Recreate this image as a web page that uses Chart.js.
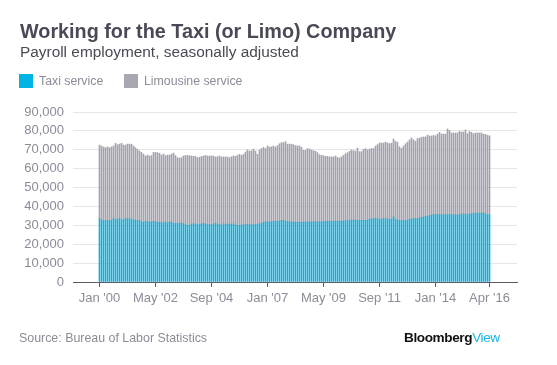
<!DOCTYPE html>
<html>
<head>
<meta charset="utf-8">
<script src="https://cdn.jsdelivr.net/npm/chart.js@4.4.1/dist/chart.umd.min.js"></script>
<style>
  body { margin: 0; background: #fff; }
  #wrap { position: relative; width: 557px; height: 365px; font-family: "Liberation Sans", Arial, sans-serif; overflow: hidden; }
  #c { position: absolute; left: 0; top: 0; }
  .title { position: absolute; left: 20px; top: 20px; font-size: 19.8px; font-weight: bold; color: #4a4956; white-space: nowrap; }
  .sub { position: absolute; left: 20px; top: 43px; font-size: 15.4px; color: #4a4956; white-space: nowrap; }
  .legend { position: absolute; top: 74px; font-size: 12.3px; line-height: 14px; color: #8c8b98; white-space: nowrap; }
  .legend span.sw { display: inline-block; width: 14px; height: 14px; vertical-align: top; margin-right: 6px; }
  .source { position: absolute; left: 19px; top: 331px; font-size: 12.4px; color: #8c8b98; white-space: nowrap; }
  .logo { position: absolute; left: 404px; top: 330px; font-size: 13.6px; font-weight: bold; letter-spacing: -0.4px; color: #111; white-space: nowrap; }
  .logo span { color: #1bb5e6; font-weight: normal; }
</style>
</head>
<body>
<div id="wrap">
  <canvas id="c" width="557" height="365"></canvas>
  <div class="title">Working for the Taxi (or Limo) Company</div>
  <div class="sub">Payroll employment, seasonally adjusted</div>
  <div class="legend" style="left:19px"><span class="sw" style="background:#00b5e4"></span>Taxi service</div>
  <div class="legend" style="left:124px"><span class="sw" style="background:#a8a7b2"></span>Limousine service</div>
  <div class="source">Source: Bureau of Labor Statistics</div>
  <div class="logo">Bloomberg<span>View</span></div>
</div>
<script>
// monthly, Jan 2000 .. Apr 2016
const months = [];
for (let i = 0; i < 196; i++) months.push(i);

const tickMonths = [0, 28, 56, 84, 112, 140, 168, 195];
const tickLabels = ["Jan '00", "May '02", "Sep '04", "Jan '07", "May '09", "Sep '11", "Jan '14", "Apr '16"];

const taxi = [
  33500,32800,32600,32500,32500,32500,32500,33500,33000,33200,
  33500,32800,32800,33500,33500,33500,33000,33000,32600,32500,
  32500,31800,31600,32100,31800,31800,31800,32100,31800,31600,
  31600,31400,31200,31800,31200,31600,31800,31000,31000,30900,
  30900,31200,30700,30300,30000,30000,30700,30700,30700,30300,
  30300,30700,31000,30700,30300,30300,30300,30700,31000,30300,
  30400,30000,30700,30300,30300,30700,30600,30700,30100,30000,
  30000,30100,30300,30300,30400,30300,30200,30300,30400,30300,
  30900,30800,31600,31800,31700,31800,31900,32100,32100,32000,
  32200,32600,32600,32000,31800,31800,31700,31800,31600,31600,
  31500,31600,31700,31600,31800,31800,31700,31800,31900,31800,
  31800,31800,32000,32100,32100,32200,32000,32100,32200,32100,
  32100,32200,32300,32500,32500,32500,32800,32800,32700,32600,
  32600,32600,32600,32600,32600,33100,33300,33500,33500,33500,
  33100,33100,33500,33500,33300,33100,33100,34400,33100,32800,
  32600,32500,32500,32500,32500,33100,33300,33500,33500,33500,
  33800,34200,34400,34600,34600,35100,35300,35600,35600,35700,
  35600,35600,35500,35600,35600,35700,35600,35500,35600,35300,
  35600,36000,35600,36000,35600,36000,36000,36300,36300,36500,
  36100,36500,36500,36000,35600,35600
];

const limo = [
  39000,39200,38900,38600,39000,38600,39000,38500,40400,39500,
  39500,40600,39700,39000,39500,39500,39900,39000,38500,37700,
  36800,36800,36100,34600,35400,34900,35100,36500,36800,36900,
  36500,35800,36500,35100,36000,35600,35900,37300,36000,34900,
  34700,34600,36000,36700,37000,36900,36000,35800,35800,35500,
  35700,35800,35700,36300,36400,36400,36400,36000,35200,36000,
  36300,36200,35500,35900,35900,35100,35700,36000,36400,37000,
  37600,36900,37300,38500,39500,39000,39300,40100,38900,37300,
  39000,39800,39700,38800,40300,39700,39600,39900,39400,40200,
  41000,41200,41200,42300,41200,41200,41300,40900,40600,40400,
  40500,39700,38000,38100,38800,38600,38200,37700,37300,36700,
  35600,35200,34900,34400,34400,34000,34200,34100,34500,33900,
  33500,34100,34700,35400,36000,36700,37100,36700,36600,38300,
  36400,36400,37600,38000,37400,37300,37300,37200,38500,39200,
  40500,40500,40100,40600,40300,40100,40300,41300,41400,41100,
  39000,38200,39500,40700,41600,42100,42900,41800,41000,42400,
  42400,42400,42400,42200,43200,42200,42000,42000,41800,42600,
  43600,42700,42800,42700,45400,44600,43300,43400,43300,43600,
  44100,43400,43800,44500,42900,43700,43200,42200,42600,42400,
  42800,42400,41700,42200,42000,41800
];

const axisGray = '#8c8b98';
const fontFam = '"Liberation Sans", Arial, sans-serif';

new Chart(document.getElementById('c').getContext('2d'), {
  type: 'bar',
  data: {
    labels: months,
    datasets: [
      { label: 'Taxi service', data: taxi, backgroundColor: '#12aedb', barThickness: 1, borderWidth: 0 },
      { label: 'Limousine service', data: limo, backgroundColor: '#a3a2ad', barThickness: 1, borderWidth: 0 }
    ]
  },
  options: {
    responsive: false,
    animation: false,
    devicePixelRatio: 1,
    layout: { padding: { top: 112, right: 40, bottom: 53, left: 0 } },
    plugins: {
      legend: { display: false },
      tooltip: { enabled: false }
    },
    scales: {
      x: {
        type: 'linear',
        stacked: true,
        offset: false,
        min: -13.25,
        max: 208.75,
        afterBuildTicks: (scale) => { scale.ticks = tickMonths.map(v => ({ value: v })); },
        afterFit: (scale) => { scale.height = 30; },
        ticks: {
          autoSkip: false,
          maxRotation: 0,
          padding: 4,
          color: axisGray,
          font: { family: fontFam, size: 13 },
          callback: (v) => tickLabels[tickMonths.indexOf(v)]
        },
        grid: { offset: false, drawOnChartArea: false, drawTicks: true, tickLength: 5, tickColor: '#5b5a66', tickWidth: 1 },
        border: { display: true, color: '#5b5a66', width: 1 }
      },
      y: {
        stacked: true,
        min: 0,
        max: 90000,
        afterFit: (scale) => { scale.width = 73; },
        ticks: {
          stepSize: 10000,
          padding: 9,
          color: axisGray,
          font: { family: fontFam, size: 13 },
          callback: (v) => v.toLocaleString('en-US')
        },
        grid: { color: '#e6e6e9', lineWidth: 1, drawTicks: false },
        border: { display: false }
      }
    }
  }
});
</script>
</body>
</html>
